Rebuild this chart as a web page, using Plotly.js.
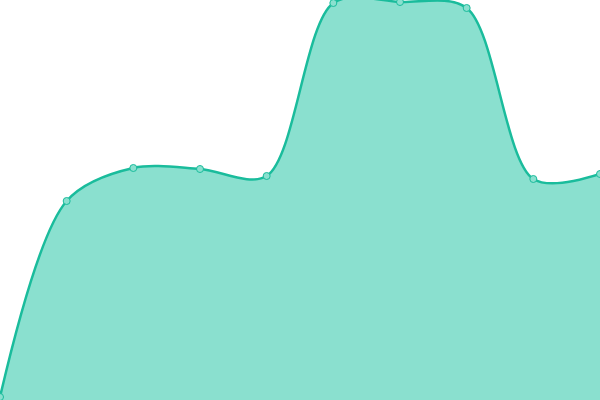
<!DOCTYPE html>
<html>
<head>
<meta charset="utf-8">
<script src="https://cdn.plot.ly/plotly-3.0.1.min.js"></script>
<style>
  html, body { margin: 0; padding: 0; background: #fff; }
  #chart { width: 600px; height: 400px; }
</style>
</head>
<body>
<div id="chart"></div>
<script>
var steps = [0, 1, 2, 3, 4, 5, 6, 7, 8, 9];
var values = [3, 199, 232, 231, 224, 397, 398, 392, 221, 226];

var area = {
    x: steps,
    y: values,
    type: 'scatter',
    mode: 'lines+markers',
    fill: 'tozeroy',
    fillcolor: '#8ae0cf',
    line: { color: '#1abc9c', width: 2.5, shape: 'spline', smoothing: 0.9 },
    marker: { size: 7, color: '#8ae0cf', line: { color: '#1abc9c', width: 1 } },
    hoverinfo: 'none',
    cliponaxis: false
};

var layout = {
    width: 600,
    height: 400,
    margin: { l: 0, r: 0, t: 0, b: 0 },
    paper_bgcolor: '#fff',
    plot_bgcolor: '#fff',
    showlegend: false,
    xaxis: { range: [0, 9], visible: false, fixedrange: true },
    yaxis: { range: [0, 400], visible: false, fixedrange: true }
};

Plotly.newPlot('chart', [area], layout, { displayModeBar: false, staticPlot: true });
</script>
</body>
</html>
